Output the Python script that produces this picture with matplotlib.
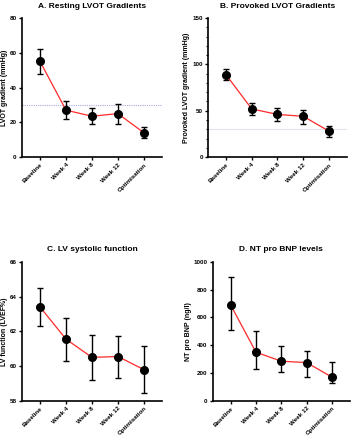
import matplotlib
matplotlib.use("Agg")
import matplotlib.pyplot as plt
from matplotlib.ticker import MultipleLocator, NullLocator

plt.rcParams['font.family'] = ['Liberation Sans', 'DejaVu Sans']
plt.rcParams['font.weight'] = 'bold'

categories = ["Baseline", "Week 4", "Week 8", "Week 12", "Optimisation"]

# Panel A
a_mean = [55, 27, 23.5, 25, 14]
a_low = [48, 22, 19, 19, 11]
a_high = [62, 32, 28, 30.5, 17.5]
# Panel B
b_mean = [89, 52, 46, 44, 28]
b_low = [83, 45, 39, 36, 22]
b_high = [95, 58, 53, 51, 33]
# Panel C
c_mean = [63.4, 61.55, 60.5, 60.55, 59.8]
c_low = [62.3, 60.3, 59.2, 59.3, 58.45]
c_high = [64.5, 62.75, 61.8, 61.75, 61.15]
# Panel D
d_mean = [690, 350, 285, 275, 170]
d_low = [510, 230, 210, 175, 125]
d_high = [890, 500, 395, 360, 280]

fig = plt.figure(figsize=(3.53, 4.40), dpi=100)

panels = [
    dict(rect=[0.062, 0.643, 0.397, 0.316], mean=a_mean, low=a_low, high=a_high,
         title="A. Resting LVOT Gradients", ylabel="LVOT gradient (mmHg)",
         ylim=(0, 80), major=20, minor=None, ref=30, refcolor="#a9a9e8", refls=(0, (1, 1))),
    dict(rect=[0.589, 0.643, 0.394, 0.316], mean=b_mean, low=b_low, high=b_high,
         title="B. Provoked LVOT Gradients", ylabel="Provoked LVOT gradient (mmHg)",
         ylim=(0, 150), major=50, minor=10, ref=30, refcolor="#e2e2ee", refls="-"),
    dict(rect=[0.062, 0.089, 0.397, 0.316], mean=c_mean, low=c_low, high=c_high,
         title="C. LV systolic function", ylabel="LV function (LVEF%)",
         ylim=(58, 66), major=2, minor=None, ref=None),
    dict(rect=[0.603, 0.089, 0.388, 0.316], mean=d_mean, low=d_low, high=d_high,
         title="D. NT pro BNP levels", ylabel="NT pro BNP (ng/l)",
         ylim=(0, 1000), major=200, minor=None, ref=None),
]

x = list(range(len(categories)))
for p in panels:
    ax = fig.add_axes(p["rect"])
    yerr = [[m - l for m, l in zip(p["mean"], p["low"])],
            [h - m for m, h in zip(p["mean"], p["high"])]]
    if p["ref"] is not None:
        ax.axhline(p["ref"], color=p["refcolor"], lw=0.8, ls=p["refls"], zorder=1)
    ax.plot(x, p["mean"], color="#ff2a2a", lw=0.9, zorder=2)
    ax.errorbar(x, p["mean"], yerr=yerr, fmt="none", ecolor="black",
                elinewidth=1.0, capsize=2, capthick=1.0, zorder=3)
    ax.plot(x, p["mean"], "o", color="black", ms=5.5, zorder=4)
    ax.set_xlim(-0.7, 4.7)
    ax.set_ylim(*p["ylim"])
    ax.yaxis.set_major_locator(MultipleLocator(p["major"]))
    if p["minor"]:
        ax.yaxis.set_minor_locator(MultipleLocator(p["minor"]))
    else:
        ax.yaxis.set_minor_locator(NullLocator())
    ax.set_xticks(x)
    ax.set_xticklabels(categories, rotation=45, ha="right", rotation_mode="anchor",
                       fontsize=4.5, fontweight="bold")
    for lab in ax.get_yticklabels():
        lab.set_fontsize(4.5)
        lab.set_fontweight("bold")
    ax.spines["top"].set_visible(False)
    ax.spines["right"].set_visible(False)
    ax.spines["left"].set_linewidth(1.2)
    ax.spines["bottom"].set_linewidth(1.2)
    ax.tick_params(axis="both", which="major", width=1.0, length=2.5, pad=1.2)
    ax.tick_params(axis="y", which="minor", width=0.8, length=1.8)
    ax.set_title(p["title"], fontsize=6, fontweight="bold", pad=7.5)
    ax.set_ylabel(p["ylabel"], fontsize=5, fontweight="bold", labelpad=1.5)

fig.savefig("out.png", dpi=100)
